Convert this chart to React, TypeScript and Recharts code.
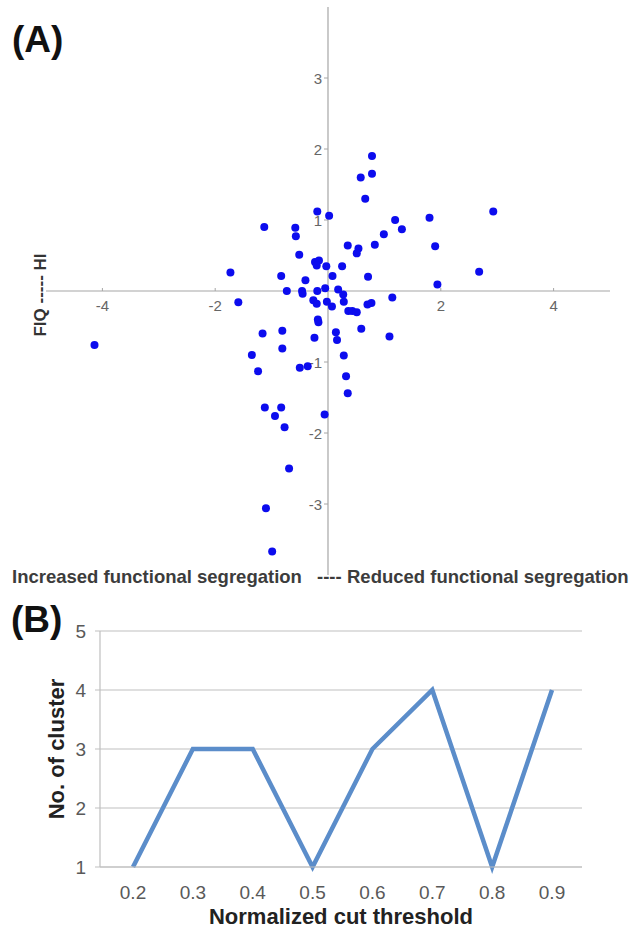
import {
  ScatterChart,
  Scatter,
  XAxis,
  YAxis,
  ReferenceLine,
  ReferenceDot,
  LineChart,
  Line,
  CartesianGrid,
} from "recharts"

// (A) FIQ vs functional segregation scatter
const POINT_X = [
  0.78, 0.78, 0.58, 0.66, -0.19, 0.02, 1.19, 1.8, 1.31, -1.13, -0.58, -0.57, 0.99, 1.9, 0.35, 0.83,
  0.54, 0.51, -0.51, -0.23, -0.16, -0.2, -0.03, 0.25, -1.73, -0.83, -0.4, 0.08, 0.71, 1.94, 2.93, 2.68,
  -0.73, -0.46, -0.45, -0.19, -0.05, 0.18, 0.27, -1.59, -0.26, -0.2, -0.02, 0.07, 0.28, 0.36, 0.43, 0.51,
  0.7, 0.77, 1.14, -0.18, -0.17, -1.16, -0.81, -0.81, -0.24, 0.14, 0.16, 0.59, 1.09, -1.35, -1.24, -0.5,
  -0.36, 0.28, 0.32, 0.35, -1.12, -0.83, -0.94, -0.77, -0.06, -0.69, -1.1, -0.99, -4.14,
]
const POINT_Y = [
  1.9, 1.65, 1.6, 1.3, 1.12, 1.06, 1.0, 1.03, 0.87, 0.9, 0.89, 0.77, 0.8, 0.63, 0.64, 0.65,
  0.6, 0.53, 0.51, 0.41, 0.43, 0.36, 0.35, 0.35, 0.26, 0.21, 0.15, 0.21, 0.2, 0.09, 1.12, 0.27,
  0.0, 0.0, -0.04, 0.0, 0.04, 0.02, -0.05, -0.16, -0.13, -0.18, -0.15, -0.22, -0.15, -0.28, -0.28, -0.3,
  -0.19, -0.17, -0.09, -0.4, -0.44, -0.6, -0.56, -0.81, -0.66, -0.58, -0.69, -0.53, -0.64, -0.9, -1.13, -1.08,
  -1.06, -0.91, -1.2, -1.44, -1.64, -1.64, -1.76, -1.92, -1.74, -2.5, -3.06, -3.67, -0.76,
]
const X_TICKS = [-4, -2, 2, 4]
const Y_TICKS = [3, 2, 1, -1, -2, -3]

// (B) clusters per cut threshold
const THRESHOLDS = ["0.2", "0.3", "0.4", "0.5", "0.6", "0.7", "0.8", "0.9"]
const CLUSTERS = [1, 3, 3, 1, 3, 4, 1, 4]
const CLUSTER_TICKS = [1, 2, 3, 4, 5]

const FONT = "'Liberation Sans', Arial, Helvetica, sans-serif"
const AXIS_GREY = "#a6a6a6"
const TICK_GREY = "#666"

const points = POINT_X.map((x, i) => ({ x, y: POINT_Y[i] }))
const lineData = THRESHOLDS.map((t, i) => ({ t, n: CLUSTERS[i] }))

const boldText = (size: number, color: string) => ({
  position: "absolute" as const,
  whiteSpace: "pre" as const,
  fontSize: size,
  fontWeight: 700,
  color,
  lineHeight: 1,
})

export default function App() {
  return (
    <div
      style={{
        position: "absolute",
        left: 0,
        top: 0,
        width: 634,
        height: 935,
        background: "#fff",
        fontFamily: FONT,
        overflow: "hidden",
      }}
    >
      {/* Panel A */}
      <div style={{ position: "absolute", left: 0, top: 0 }}>
        <ScatterChart width={634} height={600} margin={{ top: 7, right: 24, bottom: 25, left: 46 }}>
          <XAxis type="number" dataKey="x" domain={[-5, 5]} hide />
          <YAxis type="number" dataKey="y" domain={[-4, 4]} hide />
          <ReferenceLine x={0} stroke={AXIS_GREY} strokeWidth={1.2} />
          <ReferenceLine y={0} stroke={AXIS_GREY} strokeWidth={1.2} />
          {X_TICKS.map((v) => (
            <ReferenceDot
              key={`xt${v}`}
              x={v}
              y={0}
              r={0}
              shape={(p: any) => (
                <g>
                  <line x1={p.cx} x2={p.cx} y1={p.cy - 3} y2={p.cy} stroke={AXIS_GREY} />
                  <text
                    x={p.cx}
                    y={p.cy + 20}
                    textAnchor="middle"
                    fontSize={15}
                    fill={TICK_GREY}
                    fontFamily={FONT}
                  >
                    {String(v)}
                  </text>
                </g>
              )}
            />
          ))}
          {Y_TICKS.map((v) => (
            <ReferenceDot
              key={`yt${v}`}
              x={0}
              y={v}
              r={0}
              shape={(p: any) => (
                <g>
                  <line x1={p.cx - 4} x2={p.cx} y1={p.cy} y2={p.cy} stroke={AXIS_GREY} />
                  <text
                    x={p.cx - 6}
                    y={p.cy + 5.5}
                    textAnchor="end"
                    fontSize={15}
                    fill={TICK_GREY}
                    fontFamily={FONT}
                  >
                    {String(v)}
                  </text>
                </g>
              )}
            />
          ))}
          <Scatter
            data={points}
            isAnimationActive={false}
            shape={(p: any) => <circle cx={p.cx} cy={p.cy} r={4} fill="#0c0cee" />}
          />
        </ScatterChart>
      </div>

      <div style={{ ...boldText(37, "#111"), left: 12, top: 21 }}>(A)</div>
      <div
        style={{
          ...boldText(17, "#333"),
          left: 40,
          top: 295,
          transform: "translate(-50%, -50%) rotate(-90deg)",
        }}
      >
        FIQ ----- HI
      </div>
      <div style={{ ...boldText(18.5, "#3c3c3c"), left: 12, top: 568 }}>Increased functional segregation</div>
      <div style={{ ...boldText(18.5, "#3c3c3c"), left: 317, top: 568 }}>----</div>
      <div style={{ ...boldText(18.5, "#3c3c3c"), left: 347, top: 568 }}>Reduced functional segregation</div>

      {/* Panel B */}
      <div style={{ position: "absolute", left: 0, top: 590 }}>
        <LineChart width={634} height={345} data={lineData} margin={{ top: 41, right: 52, bottom: 38, left: 40 }}>
          <CartesianGrid vertical={false} stroke="#bfbfbf" strokeWidth={1.2} />
          <XAxis
            dataKey="t"
            height={30}
            padding={{ left: 33, right: 30 }}
            axisLine={{ stroke: "#bfbfbf", strokeWidth: 1.2 }}
            tickLine={false}
            tickMargin={13}
            tick={{ fontSize: 19, fill: "#595959", fontFamily: FONT }}
          />
          <YAxis
            width={60}
            domain={[1, 5]}
            ticks={CLUSTER_TICKS}
            axisLine={{ stroke: "#bfbfbf", strokeWidth: 1.2 }}
            tickLine={{ stroke: "#bfbfbf" }}
            tickSize={5}
            tickMargin={9}
            tick={{ fontSize: 19, fill: "#595959", fontFamily: FONT }}
          />
          <Line
            type="linear"
            dataKey="n"
            stroke="#5b8dca"
            strokeWidth={4.5}
            dot={false}
            isAnimationActive={false}
          />
        </LineChart>
      </div>

      <div style={{ ...boldText(37, "#111"), left: 11, top: 601 }}>(B)</div>
      <div
        style={{
          ...boldText(22, "#222"),
          left: 57,
          top: 749,
          transform: "translate(-50%, -50%) rotate(-90deg)",
        }}
      >
        No. of cluster
      </div>
      <div
        style={{
          ...boldText(22, "#222"),
          left: 341,
          top: 917,
          transform: "translate(-50%, -50%)",
        }}
      >
        Normalized cut threshold
      </div>
    </div>
  )
}
